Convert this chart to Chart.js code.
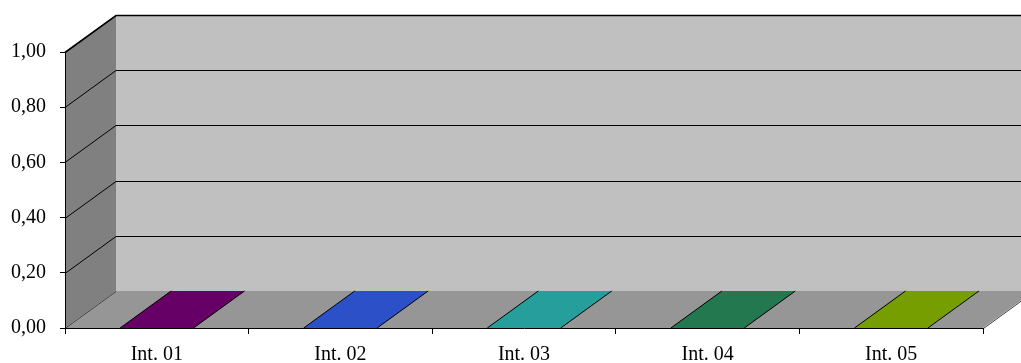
<!DOCTYPE html>
<html>
<head>
<meta charset="utf-8">
<script src="https://cdn.jsdelivr.net/npm/chart.js@4/dist/chart.umd.min.js"></script>
<style>
  html, body { margin: 0; padding: 0; background: #ffffff; }
  #wrap { width: 1021px; height: 363px; }
</style>
</head>
<body>
<div id="wrap"><canvas id="chart" width="1021" height="363"></canvas></div>
<script>
// Series: one value per interval
const categories = ["Int. 01", "Int. 02", "Int. 03", "Int. 04", "Int. 05"];
const values = [0, 0, 0, 0, 0];
const barColors = ["#660066", "#2b50c8", "#269e9c", "#24784f", "#779e00"];
const yTickValues = [0, 0.2, 0.4, 0.6, 0.8, 1.0];

// 3D look: depth offset of the back wall
const DX = 51, DY = 37;

const wallsPlugin = {
  id: 'walls3d',
  beforeDraw(chart) {
    const ctx = chart.ctx;
    const { left, right, top, bottom } = chart.chartArea;
    const yScale = chart.scales.y;
    ctx.save();
    ctx.fillStyle = '#ffffff';
    ctx.fillRect(0, 0, chart.width, chart.height);

    // side wall
    ctx.fillStyle = '#808080';
    ctx.beginPath();
    ctx.moveTo(left, top);
    ctx.lineTo(left + DX, top - DY);
    ctx.lineTo(left + DX, bottom - DY);
    ctx.lineTo(left, bottom);
    ctx.closePath();
    ctx.fill();

    // back wall
    ctx.fillStyle = '#c0c0c0';
    ctx.fillRect(left + DX, top - DY, right - left, bottom - top);

    // floor
    ctx.fillStyle = '#969696';
    ctx.beginPath();
    ctx.moveTo(left, bottom);
    ctx.lineTo(left + DX, bottom - DY);
    ctx.lineTo(right + DX, bottom - DY);
    ctx.lineTo(right, bottom);
    ctx.closePath();
    ctx.fill();

    // grid lines across side wall and back wall
    yTickValues.forEach(v => {
      const y = Math.round(yScale.getPixelForValue(v)) + 0.5;
      ctx.beginPath();
      if (v > 0) {
        ctx.strokeStyle = '#000000';
        ctx.lineWidth = (v === 1) ? 1.6 : 1;
        ctx.moveTo(left, y);
        ctx.lineTo(left + DX, y - DY);
        ctx.lineTo(right + DX, y - DY);
      } else {
        ctx.strokeStyle = '#404040';
        ctx.lineWidth = 1;
        ctx.moveTo(left, y);
        ctx.lineTo(left + DX, y - DY);
      }
      ctx.stroke();
    });

    // right edge of the floor
    ctx.strokeStyle = '#404040';
    ctx.lineWidth = 1;
    ctx.beginPath();
    ctx.moveTo(right + 0.5, bottom + 0.5);
    ctx.lineTo(right + DX + 0.5, bottom - DY + 0.5);
    ctx.stroke();
    ctx.restore();
  },
  afterDatasetsDraw(chart) {
    const ctx = chart.ctx;
    const meta = chart.getDatasetMeta(0);
    ctx.save();
    ctx.lineWidth = 1;
    meta.data.forEach((bar, i) => {
      const p = bar.getProps(['x', 'y', 'base', 'width'], true);
      const x1 = p.x - p.width / 2, x2 = p.x + p.width / 2;
      const yTop = p.y, yBase = p.base;
      const color = barColors[i % barColors.length];
      // front face
      ctx.fillStyle = color;
      ctx.fillRect(x1, yTop, x2 - x1, yBase - yTop);
      // side face
      ctx.beginPath();
      ctx.moveTo(x2, yTop);
      ctx.lineTo(x2 + DX, yTop - DY);
      ctx.lineTo(x2 + DX, yBase - DY);
      ctx.lineTo(x2, yBase);
      ctx.closePath();
      ctx.fill();
      // top face
      ctx.beginPath();
      ctx.moveTo(x1, yTop);
      ctx.lineTo(x1 + DX, yTop - DY);
      ctx.lineTo(x2 + DX, yTop - DY);
      ctx.lineTo(x2, yTop);
      ctx.closePath();
      ctx.fill();
      // outline of the slanted edges
      ctx.strokeStyle = '#000000';
      ctx.beginPath();
      ctx.moveTo(x1, yTop);
      ctx.lineTo(x1 + DX, yTop - DY);
      ctx.moveTo(x2, yTop);
      ctx.lineTo(x2 + DX, yTop - DY);
      ctx.stroke();
    });
    ctx.restore();
  }
};

const font = { family: "'Liberation Serif', 'Times New Roman', serif", size: 20 };

new Chart(document.getElementById('chart'), {
  type: 'bar',
  data: {
    labels: categories,
    datasets: [{
      data: values,
      backgroundColor: barColors,
      borderWidth: 0,
      barPercentage: 0.4,
      categoryPercentage: 1.0
    }]
  },
  options: {
    responsive: false,
    animation: false,
    layout: { padding: { top: 52, right: 38, left: 0, bottom: 0 } },
    plugins: { legend: { display: false }, tooltip: { enabled: false } },
    scales: {
      x: {
        z: 1,
        grid: { drawOnChartArea: false, drawTicks: true, tickLength: 6, color: '#000000', offset: true },
        border: { display: true, color: '#000000', width: 1 },
        ticks: { color: '#000000', font: font, padding: 9, maxRotation: 0 },
        afterFit(scale) { scale.height = 35; }
      },
      y: {
        z: 1,
        min: 0,
        max: 1,
        afterBuildTicks(scale) { scale.ticks = yTickValues.map(v => ({ value: v })); },
        grid: { drawOnChartArea: false, drawTicks: true, tickLength: 5, color: '#000000' },
        border: { display: true, color: '#000000', width: 1 },
        ticks: {
          color: '#000000', font: font, padding: 14,
          callback: v => Number(v).toFixed(2).replace('.', ',')
        },
        afterFit(scale) { scale.width = 65; }
      }
    }
  },
  plugins: [wallsPlugin]
});
</script>
</body>
</html>
